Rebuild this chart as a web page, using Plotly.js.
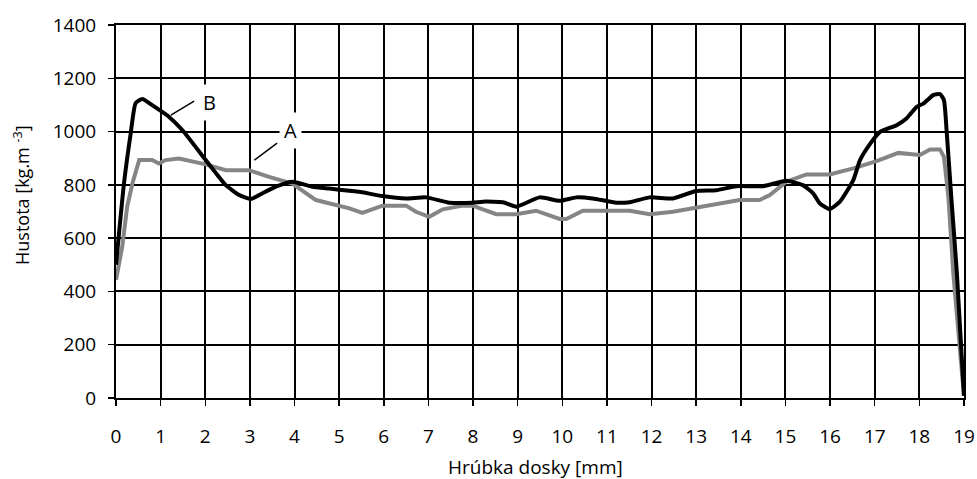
<!DOCTYPE html>
<html>
<head>
<meta charset="utf-8">
<script src="https://cdn.plot.ly/plotly-3.0.1.min.js"></script>
<style>html,body{margin:0;padding:0;background:#fff;}#chart{width:977px;height:479px;}</style>
</head>
<body>
<div id="chart"></div>
<script>
// Curve B (black)
const bX = [0, 0.18, 0.33, 0.44, 0.59, 0.81, 1.19, 1.49, 2.01, 2.24, 2.46, 2.76, 3.02, 3.21, 3.58, 3.95, 4.40, 4.78, 5.23, 5.45, 5.97, 6.50, 6.95, 7.47, 7.99, 8.22, 8.67, 8.97, 9.49, 9.94, 10.31, 10.68, 11.21, 11.51, 11.96, 12.48, 13.0, 13.45, 13.9, 14.5, 15.02, 15.39, 15.62, 15.77, 15.99, 16.22, 16.52, 16.67, 16.9, 17.12, 17.49, 17.71, 17.94, 18.09, 18.31, 18.46, 18.55, 18.61, 18.72, 18.84, 19.0];
const bY = [500, 807, 994, 1107, 1122, 1099, 1055, 1005, 893, 844, 799, 762, 747, 762, 793, 812, 793, 786, 778, 774, 758, 749, 753, 733, 733, 737, 735, 718, 753, 740, 753, 749, 733, 735, 753, 749, 777, 780, 795, 795, 815, 799, 768, 730, 709, 737, 818, 893, 955, 999, 1024, 1049, 1093, 1105, 1137, 1141, 1118, 1005, 743, 469, 8];
// Curve A (grey)
const aX = [0, 0.14, 0.25, 0.37, 0.52, 0.81, 0.96, 1.11, 1.41, 2.01, 2.46, 2.98, 3.43, 3.95, 4.48, 4.85, 5.23, 5.52, 5.97, 6.50, 6.72, 7.02, 7.32, 7.77, 7.99, 8.52, 8.97, 9.41, 9.94, 10.09, 10.46, 11.51, 11.96, 12.48, 13.0, 13.53, 13.97, 14.42, 14.65, 15.02, 15.47, 15.99, 16.52, 17.04, 17.53, 18.01, 18.24, 18.46, 18.55, 18.65, 18.76, 19.0];
const aY = [443, 568, 718, 807, 893, 893, 880, 893, 899, 877, 855, 855, 830, 805, 743, 728, 712, 695, 722, 722, 699, 680, 708, 722, 722, 690, 690, 703, 672, 672, 703, 703, 690, 699, 714, 730, 743, 743, 762, 812, 839, 839, 862, 889, 920, 912, 933, 933, 905, 755, 469, 8];

const xTickVals = [0,1,2,3,4,5,6,7,8,9,10,11,12,13,14,15,16,17,18,19];
const yTickVals = [0,200,400,600,800,1000,1200,1400];
const xTitle = "Hrúbka dosky [mm]";
const yTitle = "Hustota [kg.m <sup>-3</sup>]";
const labelB = {text: "B", x: 2.09, y: 1110, lx0: 1.23, ly0: 1062, lx1: 1.75, ly1: 1114};
const labelA = {text: "A", x: 3.9, y: 1005, lx0: 3.10, ly0: 893, lx1: 3.61, ly1: 957};

const FONT = "Open Sans, DejaVu Sans, sans-serif";

const traces = [
  {x: aX, y: aY, type: 'scatter', mode: 'lines', line: {color: '#858585', width: 4}, name: 'A', hoverinfo: 'skip'},
  {x: bX, y: bY, type: 'scatter', mode: 'lines', line: {color: '#000000', width: 4, shape: 'spline', smoothing: 0.5}, name: 'B', hoverinfo: 'skip'}
];

function leader(l) {
  return {type: 'line', xref: 'x', yref: 'y', x0: l.lx0, y0: l.ly0, x1: l.lx1, y1: l.ly1, line: {color: '#000', width: 1.5}};
}
function label(l) {
  return {x: l.x, y: l.y, xref: 'x', yref: 'y', text: l.text, showarrow: false, bgcolor: '#ffffff',
          font: {family: FONT, size: 20, color: '#000'}, borderpad: 4};
}

const layout = {
  width: 977, height: 479,
  margin: {l: 116, r: 13, t: 25, b: 81},
  paper_bgcolor: '#fff', plot_bgcolor: '#fff',
  showlegend: false,
  font: {family: FONT, color: '#000'},
  xaxis: {
    range: [0, 19], tickvals: xTickVals, ticktext: xTickVals.map(String),
    showgrid: true, gridcolor: '#000', gridwidth: 2,
    showline: true, linecolor: '#000', linewidth: 2, mirror: true,
    ticks: 'outside', ticklen: 6, tickcolor: '#000', tickwidth: 1.5,
    tickfont: {family: FONT, size: 19, color: '#000'},
    ticklabelstandoff: 14,
    zeroline: false
  },
  yaxis: {
    range: [0, 1400], tickvals: yTickVals, ticktext: yTickVals.map(String),
    showgrid: true, gridcolor: '#000', gridwidth: 2,
    showline: true, linecolor: '#000', linewidth: 2, mirror: true,
    ticks: 'outside', ticklen: 6, tickcolor: '#000', tickwidth: 1.5,
    tickfont: {family: FONT, size: 19, color: '#000'},
    ticklabelstandoff: 8,
    zeroline: false
  },
  shapes: [leader(labelB), leader(labelA)],
  annotations: [
    label(labelB), label(labelA),
    {text: xTitle, xref: 'paper', yref: 'paper', x: 0.495, y: -0.185, xanchor: 'center', yanchor: 'middle',
     showarrow: false, font: {family: FONT, size: 19, color: '#000'}},
    {text: yTitle, xref: 'paper', yref: 'paper', x: -0.111, y: 0.544, xanchor: 'center', yanchor: 'middle',
     textangle: -90, showarrow: false, font: {family: FONT, size: 18, color: '#000'}}
  ]
};

Plotly.newPlot('chart', traces, layout, {displayModeBar: false, staticPlot: true});
</script>
</body>
</html>
